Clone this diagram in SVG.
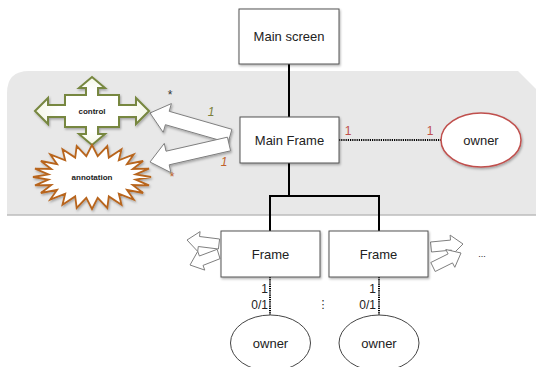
<svg xmlns="http://www.w3.org/2000/svg" width="536" height="367" viewBox="0 0 536 367">
  <defs>
    <filter id="sh" x="-10%" y="-10%" width="130%" height="140%">
      <feDropShadow dx="1" dy="1.5" stdDeviation="1" flood-color="#000" flood-opacity="0.3"/>
    </filter>
    <radialGradient id="ctlfill" cx="50%" cy="50%" r="60%">
      <stop offset="0.5" stop-color="#ffffff"/>
      <stop offset="1" stop-color="#eef3d8"/>
    </radialGradient>
  </defs>
  <style>
    .box { fill: #ffffff; stroke: #555555; stroke-width: 1; }
    .lbl { font-family: "Liberation Sans", Arial, sans-serif; font-size: 13px; fill: #222222; text-anchor: middle; }
    .small { font-family: "Liberation Sans", Arial, sans-serif; font-size: 8px; font-weight: bold; fill: #222222; text-anchor: middle; }
    .mult { font-family: "Liberation Sans", Arial, sans-serif; font-size: 12px; }
    .solid { stroke: #000000; stroke-width: 2; fill: none; }
    .dot { stroke: #000000; stroke-width: 2; fill: none; stroke-dasharray: 1.2 1; }
    .blk { fill: #ffffff; stroke: #7f7f7f; stroke-width: 1; stroke-linejoin: miter; }
  </style>

  <!-- background panel -->
  <path d="M 7,93 Q 7,71 29,71 L 518,71 L 536,89 L 536,215 L 7,215 Z" fill="#e8e8e8"/>
  <line x1="7" y1="215" x2="536" y2="215" stroke="#bdbdbd" stroke-width="1.5"/>

  <!-- connectors -->
  <g id="connectors">
    <line class="solid" x1="289" y1="64" x2="289" y2="117"/>
    <path class="solid" d="M 289,163 L 289,196 M 270,196 L 379,196 M 270,195 L 270,231 M 379,195 L 379,231"/>
    <line class="dot" x1="339" y1="140" x2="441" y2="140"/>
    <line class="dot" x1="270" y1="277" x2="270" y2="315"/>
    <line class="dot" x1="379" y1="277" x2="379" y2="315"/>
    <!-- block arrows from Main Frame -->
    <polygon class="blk" filter="url(#sh)" points="231.9,129.3 169.2,111.3 171.4,103.6 150,113 163.2,132.4 165.4,124.7 228.1,142.7"/>
    <polygon class="blk" filter="url(#sh)" points="227.4,137.2 166,151.2 164.3,143.4 150,162 170.9,172.6 169.2,164.8 230.6,150.8"/>
    <!-- small arrows near frames -->
    <polygon class="blk" points="219.6,239 199.5,236.5 200.1,231.6 187,240 197.7,251.4 198.3,246.5 218.4,249"/>
    <polygon class="blk" points="217.2,249.3 199.4,256 197.7,251.4 190,265 204.8,270.1 203,265.4 220,258.7"/>
    <polygon class="blk" points="431.5,252 451.5,250.1 451.9,255.1 463,244 450.1,235.1 450.5,240.1 430.5,242"/>
    <polygon class="blk" points="435.2,271.5 452.5,262.9 454.8,267.3 461,253 445.8,249.5 448.1,253.9 430.8,262.5"/>
    <!-- multiplicities -->
    <text class="mult" x="170" y="99" fill="#333333" font-size="10" text-anchor="middle">*</text>
    <text class="mult" x="211" y="116" fill="#7a7f3a" font-style="italic" text-anchor="middle">1</text>
    <text class="mult" x="224" y="166" fill="#c0622a" font-style="italic" text-anchor="middle">1</text>
    <text class="mult" x="172" y="181" fill="#c0622a" font-size="10" text-anchor="middle">*</text>
    <text class="mult" x="348" y="135" fill="#c0504d" text-anchor="middle">1</text>
    <text class="mult" x="430" y="135" fill="#c0504d" text-anchor="middle">1</text>
    <text class="mult" x="268" y="293" fill="#222222" text-anchor="end">1</text>
    <text class="mult" x="268" y="309" fill="#222222" text-anchor="end">0/1</text>
    <text class="mult" x="376" y="293" fill="#222222" text-anchor="end">1</text>
    <text class="mult" x="376" y="309" fill="#222222" text-anchor="end">0/1</text>
    <text x="323" y="308" font-family="DejaVu Sans, sans-serif" font-size="11" fill="#222222" text-anchor="middle">⋮</text>
    <text x="482" y="257" font-family="Liberation Sans, Arial, sans-serif" font-size="9" fill="#222222" text-anchor="middle">...</text>
  </g>

  <g id="main-screen">
    <rect class="box" filter="url(#sh)" x="239" y="9" width="100" height="55"/>
    <text class="lbl" x="289" y="41">Main screen</text>
  </g>

  <g id="main-frame">
    <rect class="box" filter="url(#sh)" x="240" y="117" width="99" height="46"/>
    <text class="lbl" x="289.5" y="145">Main Frame</text>
  </g>

  <g id="owner-main">
    <ellipse cx="481" cy="140" rx="40" ry="27" fill="#ffffff" stroke="#c0504d" stroke-width="1.5" filter="url(#sh)"/>
    <text class="lbl" x="481" y="145">owner</text>
  </g>

  <g id="control">
    <polygon filter="url(#sh)" fill="url(#ctlfill)" stroke="#77873f" stroke-width="2" stroke-linejoin="miter"
      points="35,111 48,98 48,105 65,105 65,95 86,95 86,88 79,88 92,77 105,88 98,88 98,95 119,95 119,105 136,105 136,98 149,111 136,124 136,117 119,117 119,127 98,127 98,134 105,134 92,145 79,134 86,134 86,127 65,127 65,117 48,117 48,124"/>
    <text class="small" x="92" y="114">control</text>
  </g>

  <g id="annotation">
    <polygon filter="url(#sh)" fill="#ffffff" stroke="#b8651e" stroke-width="1.8" stroke-linejoin="miter"
      points="151,177 135.6,179.7 149,185.3 132.7,185 143.1,193 126.9,189.8 133.7,199.6 118.8,193.7 121.5,204.7 108.8,196.4 107.3,207.9 97.7,197.8 92,209 86.3,197.8 76.7,207.9 75.2,196.4 62.5,204.7 65.2,193.7 50.3,199.6 57.1,189.8 40.9,193 51.3,185 35,185.3 48.4,179.7 33,177 48.4,174.3 35,168.7 51.3,169 40.9,161 57.1,164.2 50.3,154.4 65.2,160.3 62.5,149.3 75.2,157.6 76.7,146.1 86.3,156.2 92,145 97.7,156.2 107.3,146.1 108.8,157.6 121.5,149.3 118.8,160.3 133.7,154.4 126.9,164.2 143.1,161 132.7,169 149,168.7 135.6,174.3"/>
    <text class="small" x="92" y="180">annotation</text>
  </g>

  <g id="frame-1">
    <rect class="box" filter="url(#sh)" x="221" y="231" width="99" height="46"/>
    <text class="lbl" x="270.5" y="259">Frame</text>
  </g>

  <g id="frame-2">
    <rect class="box" filter="url(#sh)" x="329" y="231" width="99" height="46"/>
    <text class="lbl" x="378.5" y="259">Frame</text>
  </g>

  <g id="owner-1">
    <ellipse cx="270.5" cy="343" rx="40" ry="28" fill="#ffffff" stroke="#444444" stroke-width="1"/>
    <text class="lbl" x="270.5" y="348">owner</text>
  </g>

  <g id="owner-2">
    <ellipse cx="379" cy="343" rx="40" ry="28" fill="#ffffff" stroke="#444444" stroke-width="1"/>
    <text class="lbl" x="379" y="348">owner</text>
  </g>
</svg>
